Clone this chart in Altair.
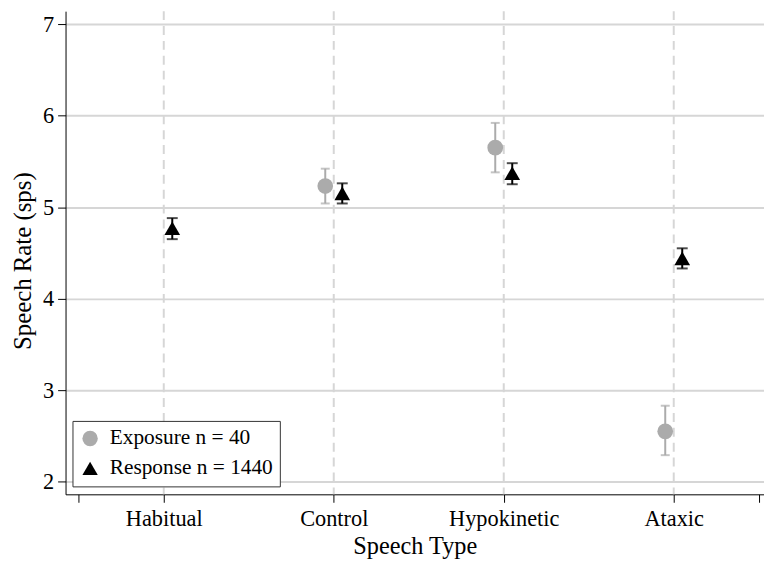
import altair as alt
import pandas as pd

categories = ["Habitual", "Control", "Hypokinetic", "Ataxic"]
cat_pos = [1, 2, 3, 4]

exposure_label = "Exposure n = 40"
response_label = "Response n = 1440"

exposure_mean = [None, 5.23, 5.65, 2.55]
exposure_lo = [None, 5.04, 5.38, 2.29]
exposure_hi = [None, 5.42, 5.92, 2.83]

response_mean = [4.77, 5.15, 5.37, 4.44]
response_lo = [4.65, 5.04, 5.25, 4.33]
response_hi = [4.88, 5.26, 5.48, 4.55]

rows = []
for i, c in enumerate(categories):
    if exposure_mean[i] is not None:
        rows.append(dict(cat=c, pos=cat_pos[i], series=exposure_label,
                         mean=exposure_mean[i], lo=exposure_lo[i], hi=exposure_hi[i]))
    rows.append(dict(cat=c, pos=cat_pos[i], series=response_label,
                     mean=response_mean[i], lo=response_lo[i], hi=response_hi[i]))
df = pd.DataFrame(rows)
cats_df = pd.DataFrame({"cat": categories, "pos": cat_pos})

FONT = "Liberation Serif"
GRAY = "#ababab"
GRID = "#d6d6d6"

xscale = alt.Scale(domain=[0.4222, 4.531], nice=False, zero=False)
yscale = alt.Scale(domain=[1.862, 7.141], nice=False, zero=False)

label_expr = ("datum.value == 1 ? 'Habitual' : datum.value == 2 ? 'Control' : "
              "datum.value == 3 ? 'Hypokinetic' : datum.value == 4 ? 'Ataxic' : ''")

xaxis = alt.Axis(values=[0.5, 1, 2, 3, 4, 4.5], labelExpr=label_expr, grid=False,
                 title="Speech Type", tickSize=8, labelPadding=5,
                 titlePadding=5, labelFont=FONT, titleFont=FONT,
                 labelFontSize=22.5, titleFontSize=24.5, titleFontWeight="normal",
                 labelColor="black", titleColor="black", domainColor="black",
                 tickColor="black")
yaxis = alt.Axis(values=[2, 3, 4, 5, 6, 7], grid=True, gridColor=GRID, gridWidth=2,
                 title="Speech Rate (sps)", tickSize=8, labelPadding=4,
                 titlePadding=7, format="d", labelFont=FONT, titleFont=FONT,
                 labelFontSize=22.5, titleFontSize=25, titleFontWeight="normal",
                 titleY=251.5,
                 labelColor="black", titleColor="black", domainColor="black",
                 tickColor="black")

base = alt.Chart(df).transform_calculate(
    xp="datum.pos + (datum.series == '" + exposure_label + "' ? -0.05 : 0.05)"
)

vlines = alt.Chart(cats_df).mark_rule(color=GRID, strokeWidth=2, strokeDash=[9, 6]).encode(
    x=alt.X("pos:Q", scale=xscale, axis=xaxis),
)

layers = [vlines]
for lab, col, cap in [(exposure_label, GRAY, 9), (response_label, "black", 11)]:
    b = base.transform_filter(alt.datum.series == lab)
    layers.append(b.mark_rule(color=col, strokeWidth=2).encode(
        x=alt.X("xp:Q", scale=xscale, axis=xaxis),
        y=alt.Y("lo:Q", scale=yscale, axis=yaxis),
        y2="hi:Q"))
    for f in ["lo", "hi"]:
        layers.append(b.mark_tick(color=col, orient="horizontal", size=cap, thickness=2).encode(
            x=alt.X("xp:Q", scale=xscale, axis=xaxis),
            y=alt.Y(f + ":Q", scale=yscale, axis=yaxis)))

points = base.mark_point(filled=True, opacity=1).encode(
    x=alt.X("xp:Q", scale=xscale, axis=xaxis),
    y=alt.Y("mean:Q", scale=yscale, axis=yaxis),
    color=alt.Color("series:N",
                    scale=alt.Scale(domain=[exposure_label, response_label], range=[GRAY, "black"]),
                    legend=alt.Legend(title=None, orient="none", legendX=7, legendY=413,
                                      strokeColor="#333333", fillColor="white",
                                      padding=7, labelFontSize=21.5, labelFont=FONT,
                                      labelColor="black", rowPadding=7, symbolSize=240,
                                      symbolOpacity=1, labelLimit=300, cornerRadius=0,
                                      labelOffset=9)),
    shape=alt.Shape("series:N",
                    scale=alt.Scale(domain=[exposure_label, response_label],
                                    range=["circle", "triangle-up"])),
    size=alt.value(250),
)
layers.append(points)

chart = alt.layer(*layers).properties(
    width=704, height=487,
    autosize="none",
    padding={"left": 58, "top": 1, "right": 0, "bottom": 64},
).configure_view(stroke=None)

chart.save("out.html", embed_options={"renderer": "svg", "actions": False})
